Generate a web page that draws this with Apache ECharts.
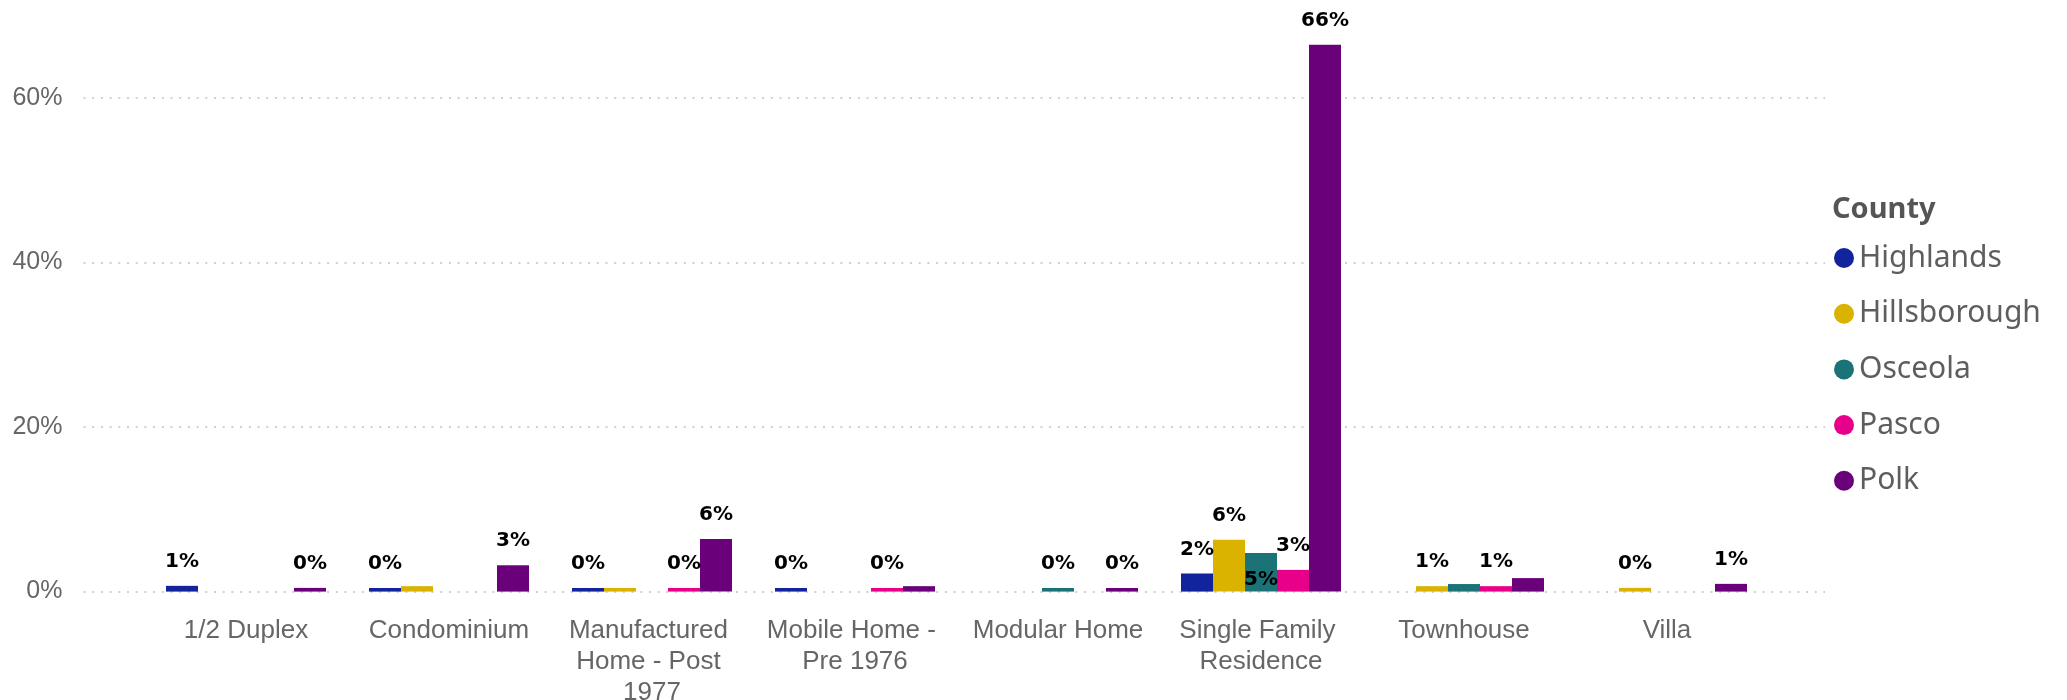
<!DOCTYPE html>
<html>
<head>
<meta charset="utf-8">
<script src="https://cdn.jsdelivr.net/npm/echarts@6/dist/echarts.min.js"></script>
<style>
  html, body { margin: 0; padding: 0; background: #fff; }
  #chart { width: 2067px; height: 700px; }
</style>
</head>
<body>
<div id="chart"></div>
<script>
// ---- data ----
const categories = [
  "1/2 Duplex",
  "Condominium",
  "Manufactured Home - Post 1977",
  "Mobile Home - Pre 1976",
  "Modular Home",
  "Single Family Residence",
  "Townhouse",
  "Villa"
];
const counties = ["Highlands", "Hillsborough", "Osceola", "Pasco", "Polk"];
// percent values (null = no bar)
const highlands    = [0.7,  0.44, 0.44, 0.44, null, 2.2,   null, null];
const hillsborough = [null, 0.66, 0.44, null, null, 6.3,   0.66, 0.45];
const osceola      = [null, null, null, null, 0.44, 4.7,   0.92, null];
const pasco        = [null, null, 0.44, 0.44, null, 2.64,  0.66, null];
const polk         = [0.45, 3.2,  6.4,  0.66, 0.44, 66.45, 1.64, 0.94];
const yTicks = [0, 20, 40, 60];

// ---- label placement (style, not data) ----
const hiddenLabels = [
  ["Condominium", "Hillsborough"],
  ["Manufactured Home - Post 1977", "Hillsborough"],
  ["Mobile Home - Pre 1976", "Polk"],
  ["Townhouse", "Osceola"],
  ["Townhouse", "Polk"]
];
const insideLabels = [["Single Family Residence", "Osceola"]];

const colors = ["#12239E", "#D9B300", "#1B7377", "#E8008A", "#6B007B"];
const seriesValues = [highlands, hillsborough, osceola, pasco, polk];

function has(list, cat, name) {
  return list.some(p => p[0] === cat && p[1] === name);
}

const series = counties.map((name, si) => ({
  name: name,
  type: 'bar',
  xAxisIndex: 1,
  yAxisIndex: 1,
  barWidth: 32,
  barGap: '0%',
  clip: false,
  itemStyle: { color: colors[si] },
  label: {
    show: true,
    position: 'top',
    distance: 14,
    fontFamily: 'DejaVu Sans',
    fontWeight: 'bold',
    fontSize: 20,
    color: '#000',
    formatter: p => Math.round(p.value) + '%'
  },
  data: seriesValues[si].map((v, ci) => {
    const cat = categories[ci];
    if (v === null) return { value: null, label: { show: false } };
    if (has(hiddenLabels, cat, name)) return { value: v, label: { show: false } };
    if (has(insideLabels, cat, name)) return { value: v, label: { position: 'insideBottom', distance: 2 } };
    return v;
  })
}));

const gridTop = 97.8, gridBottom = 700 - 591.6;

const option = {
  animation: false,
  textStyle: { fontFamily: 'Liberation Sans' },
  title: {
    text: 'County',
    left: 1832,
    top: 195,
    padding: 0,
    textStyle: { fontFamily: 'Noto Sans', fontWeight: 'bold', fontSize: 29, color: '#555555' }
  },
  legend: {
    data: counties,
    orient: 'vertical',
    left: 1834,
    top: 240,
    padding: 0,
    itemWidth: 20,
    itemHeight: 20,
    itemGap: 19.7,
    icon: 'circle',
    textStyle: { fontFamily: 'Noto Sans', fontSize: 30, color: '#605E5C', lineHeight: 36 }
  },
  grid: [
    { left: 83.5, right: 2067 - 1825, top: gridTop, bottom: gridBottom, containLabel: false, outerBoundsMode: 'none' },
    { left: 144.5, right: 2067 - 1768.5, top: gridTop, bottom: gridBottom, containLabel: false, outerBoundsMode: 'none' }
  ],
  xAxis: [
    { gridIndex: 0, type: 'value', show: false, min: 0, max: 1 },
    {
      gridIndex: 1,
      type: 'category',
      data: categories,
      axisLine: { show: false },
      axisTick: { show: false },
      axisLabel: {
        interval: 0,
        margin: 24,
        fontFamily: 'Liberation Sans',
        fontSize: 26,
        lineHeight: 31,
        color: '#666666',
        width: 200,
        overflow: 'break'
      }
    }
  ],
  yAxis: [
    {
      gridIndex: 0,
      type: 'value',
      min: yTicks[0],
      max: yTicks[yTicks.length - 1],
      interval: 20,
      axisLine: { show: false },
      axisTick: { show: false },
      axisLabel: {
        margin: 21,
        fontFamily: 'Liberation Sans',
        fontSize: 25,
        color: '#666666',
        formatter: v => v + '%'
      },
      splitLine: { show: true, lineStyle: { color: '#d0d0d0', width: 2, type: [2, 6.7] } }
    },
    {
      gridIndex: 1,
      type: 'value',
      min: yTicks[0],
      max: yTicks[yTicks.length - 1],
      interval: 20,
      show: false,
      splitLine: { show: false }
    }
  ],
  series: series
};

const chart = echarts.init(document.getElementById('chart'), null, { renderer: 'canvas' });
chart.setOption(option);
</script>
</body>
</html>
